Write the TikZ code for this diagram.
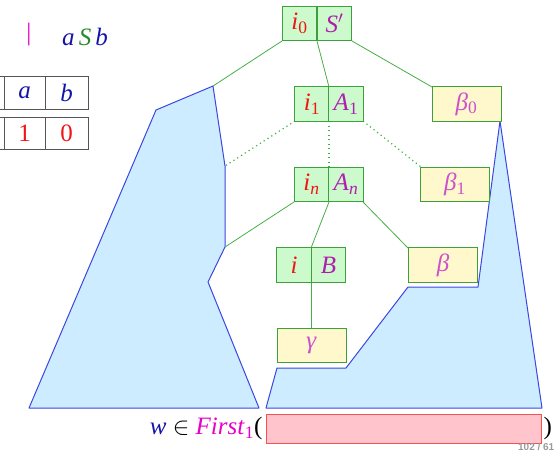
\documentclass[tikz,border=0pt]{standalone}
\usepackage{fontspec}
\setmainfont{Liberation Serif}
\setsansfont{Liberation Sans}
\usetikzlibrary{positioning}
\definecolor{verdechiaro}{RGB}{204,250,204}
\definecolor{bordoverde}{RGB}{60,160,60}
\definecolor{verdelinea}{RGB}{70,175,70}
\definecolor{giallino}{RGB}{255,248,204}
\definecolor{celeste}{RGB}{206,236,255}
\definecolor{bordoblu}{RGB}{60,70,225}
\definecolor{rosa}{RGB}{255,196,204}
\definecolor{bordorosso}{RGB}{250,80,80}
\definecolor{rosso}{RGB}{240,20,20}
\definecolor{viola}{RGB}{175,30,175}
\definecolor{violachiaro}{RGB}{205,80,205}
\definecolor{magenta2}{RGB}{230,0,200}
\definecolor{blu}{RGB}{20,20,170}
\definecolor{verde}{RGB}{40,140,40}
\definecolor{grigio}{RGB}{85,85,85}
\newcommand{\sub}[1]{\textsubscript{#1}}
\tikzset{
  grande/.style  = {font=\fontsize{25}{28}\selectfont},
  cella/.style   = {rectangle, draw=bordoverde, line width=0.8pt, fill=verdechiaro, minimum width=34.5pt, minimum height=34.5pt, inner sep=0, grande},
  foglia/.style  = {cella, fill=giallino, minimum width=69pt},
  ramo/.style    = {draw=verdelinea, line width=0.8pt},
  puntini/.style = {ramo, line width=1.2pt, dash pattern=on 1.2pt off 3.3pt},
  albero/.style  = {draw=bordoblu, line width=1pt, fill=celeste, line join=round},
  tab/.style     = {rectangle, draw=grigio, line width=0.9pt, minimum height=32.5pt, inner sep=0, grande}
}
\begin{document}
\begin{tikzpicture}[x=1pt, y=-1pt]
  \useasboundingbox (0,0) rectangle (555,451);

  % sottoalberi
  \coordinate (L0) at (156,110); \coordinate (L1) at (213,86);  \coordinate (L2) at (225,166);
  \coordinate (L3) at (225,247); \coordinate (L4) at (208,282); \coordinate (L5) at (259,408);
  \coordinate (L6) at (29,408);
  \draw[albero] (L0) -- (L1) -- (L2) -- (L3) -- (L4) -- (L5) -- (L6) -- cycle;
  \coordinate (R0) at (266,408); \coordinate (R1) at (277,368); \coordinate (R2) at (346,368);
  \coordinate (R3) at (408,287); \coordinate (R4) at (478,287); \coordinate (R5) at (500,121);
  \coordinate (R6) at (542,408);
  \draw[albero] (R0) -- (R1) -- (R2) -- (R3) -- (R4) -- (R5) -- (R6) -- cycle;

  % regola e tabella
  \node[grande, text=magenta2] (barra) at (29,35) {|};
  \node[grande] (regola) at (85,37) {\textit{\textcolor{blu}{a}\,\textcolor{verde}{S}\,\textcolor{blu}{b}}};
  \node[tab, minimum width=44pt] (t0) at (-18,93) {};
  \node[tab, minimum width=41pt] (ta) at (24.5,93) {\textcolor{blu}{\textit{a}}};
  \node[tab, minimum width=43pt] (tb) at (66.5,93) {\textcolor{blu}{\textit{b}}};
  \node[tab, minimum width=44pt] (u0) at (-18,133.5) {};
  \node[tab, minimum width=41pt] (ua) at (24.5,133.5) {\textcolor{rosso}{1}};
  \node[tab, minimum width=43pt] (ub) at (66.5,133.5) {\textcolor{rosso}{0}};

  % rami
  \draw[ramo] (282,41) -- (L1);
  \draw[ramo] (317,41) -- (329,87);
  \draw[ramo] (352,41) -- (432,87);
  \draw[puntini] (295,121) -- (L2);
  \draw[puntini] (329,121) -- (329,167);
  \draw[puntini] (363,121) -- (421,167);
  \draw[ramo] (294,202) -- (L3);
  \draw[ramo] (329,202) -- (311,248);
  \draw[ramo] (363,202) -- (408,248);
  \draw[ramo] (311,282) -- (311,328);

  % nodi
  \node[cella] (i0) at (299.5,23.5) {\textcolor{rosso}{\textit{i}\sub{0}}};
  \node[cella] (S0) at (334.5,23.5) {\textcolor{viola}{\textit{S}$'$}};
  \node[cella] (i1) at (312,104) {\textcolor{rosso}{\textit{i}\sub{1}}};
  \node[cella] (A1) at (346,104) {\textcolor{viola}{\textit{A}\sub{1}}};
  \node[foglia] (b0) at (466.5,104) {\textcolor{violachiaro}{\textit{β}\sub{0}}};
  \node[cella] (in) at (311.5,184.5) {\textcolor{rosso}{\textit{i\sub{n}}}};
  \node[cella] (An) at (346,184.5) {\textcolor{viola}{\textit{A\sub{n}}}};
  \node[foglia] (b1) at (455,184.5) {\textcolor{violachiaro}{\textit{β}\sub{1}}};
  \node[cella] (ii) at (294,265) {\textcolor{rosso}{\textit{i}}};
  \node[cella] (BB) at (328.5,265) {\textcolor{viola}{\textit{B}}};
  \node[foglia] (bb) at (443,265) {\textcolor{violachiaro}{\textit{β}}};
  \node[foglia] (gg) at (311.5,345.5) {\textcolor{violachiaro}{\textit{γ}}};

  % riga in basso
  \node[rectangle, draw=bordorosso, line width=0.9pt, fill=rosa, minimum width=275pt, minimum height=29pt, inner sep=0] (parola) at (403.5,428.5) {};
  \node[grande, anchor=east, inner sep=3pt] (first) at (parola.west) {\textcolor{blu}{\textit{w}} $\in$ \textcolor{magenta2}{\textit{First}\sub{1}}(};
  \node[grande, anchor=west, inner sep=2pt] (chiusa) at (parola.east) {)};
  \node[font=\sffamily\bfseries\fontsize{10}{11}\selectfont, text=grigio!60, anchor=south east, inner sep=0.5pt] (pagina) at (555,451) {102 / 61};
\end{tikzpicture}
\end{document}
